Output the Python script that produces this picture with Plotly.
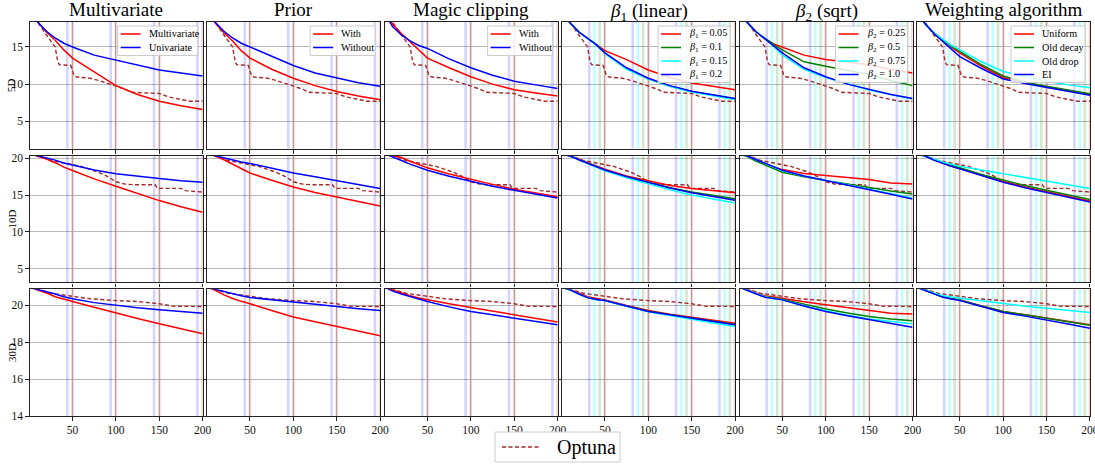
import plotly.graph_objects as go
from plotly.subplots import make_subplots

# ---------------- data ----------------
X = [1, 10, 20, 30, 40, 50, 75, 100, 125, 150, 175, 200]

COL_TITLES = ["Multivariate", "Prior", "Magic clipping",
              "<i>β</i><sub>1</sub> (linear)", "<i>β</i><sub>2</sub> (sqrt)", "Weighting algorithm"]
ROW_LABELS = ["5D", "10D", "30D"]

# Optuna baseline (same in each row)
optuna5_x = [1, 10, 20, 30, 33, 35, 48, 52, 55, 70, 80, 95, 100, 110, 118, 150, 160, 175, 185, 200]
optuna5_y = [19.6, 18.3, 16.6, 15.0, 13.0, 12.6, 12.5, 11.1, 10.95, 10.8, 10.5, 9.9, 9.7, 9.35, 8.9, 8.75, 8.3, 8.0, 7.7, 7.7]
optuna10_x = [1, 10, 25, 40, 50, 60, 70, 80, 90, 95, 100, 110, 120, 145, 148, 175, 180, 200]
optuna10_y = [20.6, 20.4, 19.7, 19.4, 19.15, 18.9, 18.5, 18.1, 17.55, 17.2, 16.8, 16.5, 16.4, 16.4, 15.9, 15.9, 15.6, 15.4]
optuna30_x = [1, 10, 25, 40, 50, 70, 100, 125, 150, 160, 165, 200]
optuna30_y = [20.95, 20.85, 20.64, 20.55, 20.46, 20.34, 20.24, 20.19, 20.07, 20.0, 19.94, 19.92]

# 5D
d5_multi = [19.6, 18.3, 17.0, 15.9, 14.6, 13.5, 11.7, 9.8, 8.6, 7.7, 7.1, 6.6]
d5_uni = [19.6, 18.3, 17.1, 16.2, 15.5, 15.0, 13.9, 13.2, 12.5, 11.9, 11.5, 11.1]
d5_prior_with = [19.6, 18.2, 16.9, 15.8, 14.5, 13.5, 12.0, 10.8, 9.8, 9.0, 8.4, 7.9]
d5_prior_without = [19.6, 18.3, 17.1, 16.2, 15.5, 15.0, 13.7, 12.5, 11.5, 10.8, 10.2, 9.7]
d5_clip_with = [19.8, 18.0, 16.8, 15.7, 14.5, 13.5, 12.2, 11.0, 10.0, 9.25, 8.8, 8.4]
d5_clip_without = [19.4, 17.7, 16.6, 15.8, 15.2, 14.8, 13.4, 12.2, 11.2, 10.4, 9.9, 9.4]
d5_b1_005 = [19.6, 18.2, 17.0, 16.1, 15.3, 14.5, 13.3, 11.9, 10.9, 10.15, 9.7, 9.26]
d5_b1_010 = [19.6, 18.2, 17.0, 16.1, 15.3, 14.2, 12.1, 10.7, 9.7, 9.0, 8.5, 8.0]
d5_b1_015 = [19.6, 18.2, 17.0, 16.1, 15.3, 14.1, 12.0, 10.7, 9.7, 8.95, 8.45, 7.95]
d5_b1_020 = [19.6, 18.2, 17.0, 16.1, 15.3, 14.2, 12.2, 10.8, 9.8, 9.03, 8.5, 8.06]
d5_b2_025 = [19.6, 18.2, 17.0, 16.1, 15.4, 15.0, 13.9, 13.3, 12.9, 12.6, 12.0, 11.5]
d5_b2_050 = [19.6, 18.2, 17.0, 16.1, 15.3, 14.6, 13.0, 12.4, 11.8, 11.3, 10.5, 9.8]
d5_b2_075 = [19.6, 18.2, 17.0, 16.0, 15.1, 13.9, 12.0, 10.9, 10.0, 9.2, 8.6, 8.0]
d5_b2_100 = [19.6, 18.2, 17.0, 16.1, 15.2, 14.2, 12.2, 11.0, 10.0, 9.25, 8.6, 8.06]
d5_w_uniform = [19.6, 18.1, 16.9, 15.9, 15.0, 14.2, 12.4, 10.9, 10.2, 9.6, 9.1, 8.6]
d5_w_decay = [19.6, 18.1, 16.9, 16.0, 15.1, 14.4, 12.6, 11.1, 10.3, 9.7, 9.2, 8.7]
d5_w_drop = [19.6, 18.1, 16.9, 16.0, 15.2, 14.6, 13.0, 11.7, 11.0, 10.4, 9.9, 9.5]
d5_w_ei = [19.6, 18.1, 16.8, 15.8, 14.8, 13.7, 12.1, 10.7, 10.1, 9.6, 9.0, 8.5]

# 10D
d10_multi = [20.6, 20.3, 19.9, 19.4, 18.8, 18.33, 17.2, 16.2, 15.2, 14.24, 13.4, 12.65]
d10_uni = [20.6, 20.35, 20.1, 19.75, 19.35, 19.05, 18.4, 17.9, 17.55, 17.24, 16.95, 16.74]
d10_prior_with = [20.6, 20.3, 19.8, 19.2, 18.6, 18.0, 17.0, 16.1, 15.35, 14.7, 14.1, 13.5]
d10_prior_without = [20.6, 20.35, 20.1, 19.75, 19.5, 19.3, 18.6, 18.0, 17.5, 17.0, 16.45, 15.9]
d10_clip_with = [20.6, 20.4, 20.1, 19.6, 19.1, 18.7, 17.85, 17.1, 16.45, 15.8, 15.25, 14.75]
d10_clip_without = [20.6, 20.2, 19.7, 19.2, 18.75, 18.37, 17.55, 16.87, 16.2, 15.64, 15.1, 14.6]
d10_b1_005 = [20.6, 20.3, 19.9, 19.4, 18.9, 18.5, 17.6, 16.9, 16.3, 15.9, 15.6, 15.3]
d10_b1_010 = [20.6, 20.3, 19.8, 19.3, 18.8, 18.4, 17.5, 16.7, 16.0, 15.4, 14.9, 14.5]
d10_b1_015 = [20.6, 20.3, 19.8, 19.3, 18.75, 18.3, 17.35, 16.5, 15.7, 15.0, 14.4, 13.9]
d10_b1_020 = [20.6, 20.3, 19.8, 19.3, 18.8, 18.4, 17.5, 16.7, 15.95, 15.3, 14.8, 14.3]
d10_b2_025 = [20.6, 20.3, 19.8, 19.3, 18.8, 18.46, 17.92, 17.65, 17.4, 17.1, 16.65, 16.5]
d10_b2_050 = [20.6, 20.2, 19.6, 19.1, 18.5, 18.1, 17.47, 17.0, 16.5, 15.97, 15.55, 15.15]
d10_b2_075 = [20.6, 20.3, 19.8, 19.3, 18.8, 18.3, 17.6, 17.0, 16.35, 15.75, 15.2, 14.6]
d10_b2_100 = [20.6, 20.3, 19.8, 19.3, 18.8, 18.37, 17.6, 17.0, 16.35, 15.74, 15.1, 14.47]
d10_w_uniform = [20.6, 20.3, 19.8, 19.35, 18.95, 18.62, 17.7, 16.85, 16.1, 15.5, 14.85, 14.2]
d10_w_decay = [20.6, 20.3, 19.8, 19.4, 19.0, 18.7, 17.8, 17.0, 16.3, 15.64, 15.0, 14.38]
d10_w_drop = [20.6, 20.3, 19.9, 19.5, 19.2, 18.9, 18.4, 17.92, 17.4, 16.87, 16.4, 15.9]
d10_w_ei = [20.6, 20.3, 19.75, 19.3, 18.9, 18.56, 17.6, 16.74, 16.0, 15.37, 14.7, 14.06]

# 30D
d30_multi = [20.95, 20.82, 20.65, 20.45, 20.3, 20.19, 19.88, 19.56, 19.27, 18.99, 18.72, 18.45]
d30_uni = [20.95, 20.85, 20.73, 20.6, 20.45, 20.34, 20.13, 19.97, 19.85, 19.74, 19.64, 19.56]
d30_prior_with = [20.95, 20.8, 20.55, 20.35, 20.2, 20.07, 19.7, 19.35, 19.1, 18.84, 18.6, 18.34]
d30_prior_without = [20.95, 20.85, 20.7, 20.6, 20.5, 20.41, 20.28, 20.16, 20.04, 19.92, 19.8, 19.7]
d30_clip_with = [20.95, 20.8, 20.65, 20.5, 20.38, 20.28, 20.07, 19.87, 19.67, 19.47, 19.27, 19.08]
d30_clip_without = [20.95, 20.75, 20.6, 20.45, 20.3, 20.19, 19.9, 19.65, 19.47, 19.29, 19.11, 18.93]
d30_b1_005 = [20.95, 20.82, 20.65, 20.45, 20.35, 20.28, 19.97, 19.7, 19.5, 19.33, 19.17, 19.02]
d30_b1_010 = [20.95, 20.82, 20.6, 20.4, 20.3, 20.25, 19.95, 19.66, 19.47, 19.29, 19.1, 18.95]
d30_b1_015 = [20.95, 20.82, 20.6, 20.4, 20.3, 20.23, 19.93, 19.63, 19.43, 19.25, 19.03, 18.84]
d30_b1_020 = [20.95, 20.82, 20.6, 20.4, 20.3, 20.25, 19.95, 19.65, 19.47, 19.29, 19.1, 18.93]
d30_b2_025 = [20.95, 20.82, 20.65, 20.5, 20.43, 20.37, 20.18, 20.01, 19.85, 19.7, 19.55, 19.51]
d30_b2_050 = [20.95, 20.8, 20.6, 20.45, 20.38, 20.32, 20.05, 19.78, 19.57, 19.38, 19.25, 19.15]
d30_b2_075 = [20.95, 20.8, 20.6, 20.45, 20.35, 20.28, 19.95, 19.68, 19.45, 19.25, 19.1, 18.99]
d30_b2_100 = [20.95, 20.8, 20.6, 20.42, 20.33, 20.28, 19.95, 19.65, 19.42, 19.2, 19.0, 18.8]
d30_w_uniform = [20.95, 20.8, 20.6, 20.45, 20.35, 20.28, 19.95, 19.65, 19.47, 19.29, 19.1, 18.93]
d30_w_decay = [20.95, 20.8, 20.6, 20.45, 20.35, 20.28, 19.95, 19.65, 19.47, 19.29, 19.1, 18.9]
d30_w_drop = [20.95, 20.8, 20.65, 20.5, 20.43, 20.37, 20.2, 20.05, 19.94, 19.83, 19.71, 19.6]
d30_w_ei = [20.95, 20.8, 20.6, 20.43, 20.33, 20.25, 19.92, 19.6, 19.4, 19.2, 18.98, 18.75]

# violin positions (checkpoints) and per-series offsets
VIOLIN_POS = [50, 100, 150, 200]
OFFSETS_2 = [0, -6]             # red, blue
OFFSETS_4 = [0, -6, -12, -18]   # red, green, cyan, blue

Y_RANGES = [[1.3, 18.35], [3.1, 20.37], [14, 20.86]]
Y_TICKS = [[5, 10, 15], [5, 10, 15, 20], [14, 16, 18, 20]]
X_TICKS = [50, 100, 150, 200]

# ---------------- styles ----------------
RED, BLUE, GREEN, CYAN, OPT = "#ff0000", "#0000ff", "#008000", "#00ffff", "#a52a2a"
VCOL = {RED: "rgba(205,95,95,0.28)", BLUE: "rgba(0,0,255,0.17)",
        GREEN: "rgba(0,128,0,0.18)", CYAN: "rgba(0,255,255,0.25)"}
FONT = "Liberation Serif"

NAMES = [
    ["Multivariate", "Univariate"],
    ["With", "Without"],
    ["With", "Without"],
    ["<i>β</i><sub>1</sub> = 0.05", "<i>β</i><sub>1</sub> = 0.1", "<i>β</i><sub>1</sub> = 0.15", "<i>β</i><sub>1</sub> = 0.2"],
    ["<i>β</i><sub>2</sub> = 0.25", "<i>β</i><sub>2</sub> = 0.5", "<i>β</i><sub>2</sub> = 0.75", "<i>β</i><sub>2</sub> = 1.0"],
    ["Uniform", "Old decay", "Old drop", "EI"],
]
LEGEND_W = [80, 65, 65, 72, 72, 74]   # legend box widths in px
COLORS2 = [RED, BLUE]
COLORS4 = [RED, GREEN, CYAN, BLUE]

ROW_DATA = [
    [[d5_multi, d5_uni], [d5_prior_with, d5_prior_without], [d5_clip_with, d5_clip_without],
     [d5_b1_005, d5_b1_010, d5_b1_015, d5_b1_020], [d5_b2_025, d5_b2_050, d5_b2_075, d5_b2_100],
     [d5_w_uniform, d5_w_decay, d5_w_drop, d5_w_ei]],
    [[d10_multi, d10_uni], [d10_prior_with, d10_prior_without], [d10_clip_with, d10_clip_without],
     [d10_b1_005, d10_b1_010, d10_b1_015, d10_b1_020], [d10_b2_025, d10_b2_050, d10_b2_075, d10_b2_100],
     [d10_w_uniform, d10_w_decay, d10_w_drop, d10_w_ei]],
    [[d30_multi, d30_uni], [d30_prior_with, d30_prior_without], [d30_clip_with, d30_clip_without],
     [d30_b1_005, d30_b1_010, d30_b1_015, d30_b1_020], [d30_b2_025, d30_b2_050, d30_b2_075, d30_b2_100],
     [d30_w_uniform, d30_w_decay, d30_w_drop, d30_w_ei]],
]
OPTUNA = [(optuna5_x, optuna5_y), (optuna10_x, optuna10_y), (optuna30_x, optuna30_y)]

W, H = 1095, 466
ML, MR, MT, MB = 30, 5, 22, 50
PW, PH = W - ML - MR, H - MT - MB


def px2x(px):
    return (px - ML) / PW


def py2y(py):
    return 1 - (py - MT) / PH


fig = make_subplots(rows=3, cols=6, horizontal_spacing=0.0045, vertical_spacing=0.017,
                    subplot_titles=COL_TITLES)

for r in range(3):
    lo, hi = Y_RANGES[r]
    for c in range(6):
        series = ROW_DATA[r][c]
        n = len(series)
        colors = COLORS2 if n == 2 else COLORS4
        offs = OFFSETS_2 if n == 2 else OFFSETS_4
        # violin-like faint vertical bands
        for k in range(n - 1, -1, -1):
            vx, vy = [], []
            for p in VIOLIN_POS:
                vx += [p + offs[k], p + offs[k], None]
                vy += [lo, hi, None]
            fig.add_trace(go.Scatter(x=vx, y=vy, mode="lines", hoverinfo="skip", showlegend=False,
                                     line=dict(color=VCOL[colors[k]], width=2.6)), row=r + 1, col=c + 1)
        # optuna baseline
        ox, oy = OPTUNA[r]
        fig.add_trace(go.Scatter(x=ox, y=oy, mode="lines", name="Optuna", showlegend=False,
                                 line=dict(color=OPT, width=1.4, dash="4px,2.5px")),
                      row=r + 1, col=c + 1)
        for k in range(n):
            fig.add_trace(go.Scatter(x=X, y=series[k], mode="lines", name=NAMES[c][k], showlegend=False,
                                     line=dict(color=colors[k], width=1.5)),
                          row=r + 1, col=c + 1)

# axes
for r in range(3):
    for c in range(6):
        common = dict(showgrid=True, gridcolor="#b8b8b8", gridwidth=1,
                      showline=True, linecolor="#222222", linewidth=1.3, mirror=True,
                      ticks="outside", ticklen=3.5, tickcolor="#222222", zeroline=False,
                      tickfont=dict(family=FONT, size=11.5, color="#111"))
        fig.update_xaxes(range=[1, 200], tickvals=X_TICKS, showticklabels=(r == 2),
                         ticklabeloverflow="allow", row=r + 1, col=c + 1, **common)
        fig.update_yaxes(range=Y_RANGES[r], tickvals=Y_TICKS[r], showticklabels=(c == 0),
                         row=r + 1, col=c + 1, **common)

for i, a in enumerate(fig.layout.annotations):
    a.font = dict(family=FONT, size=19, color="#000")
    a.yshift = -4.5 if "<sub>" in a.text else 0

# row labels
for r in range(3):
    yd = fig.layout[f"yaxis{r*6+1 if r else ''}"].domain
    fig.add_annotation(text=ROW_LABELS[r], xref="paper", yref="paper", x=px2x(11.5), y=(yd[0] + yd[1]) / 2,
                       textangle=-90, showarrow=False, font=dict(family=FONT, size=11, color="#000"),
                       xanchor="center", yanchor="middle")

# per-panel legends (top row), drawn as box + line samples + text
shapes = []
for c in range(6):
    xd = fig.layout[f"xaxis{c+1 if c else ''}"].domain
    n = len(NAMES[c])
    colors = COLORS2 if n == 2 else COLORS4
    right = ML + xd[1] * PW - 5
    left = right - LEGEND_W[c]
    top = 26
    bottom = top + 16 + 13.5 * (n - 1)
    shapes.append(dict(type="rect", xref="paper", yref="paper", x0=px2x(left), x1=px2x(right),
                       y0=py2y(bottom), y1=py2y(top), fillcolor="rgba(255,255,255,0.85)",
                       line=dict(color="#cccccc", width=1), layer="above"))
    for k in range(n):
        yc = top + 8 + 13.5 * k
        shapes.append(dict(type="line", xref="paper", yref="paper", x0=px2x(left + 3), x1=px2x(left + 23),
                           y0=py2y(yc), y1=py2y(yc), line=dict(color=colors[k], width=1.5), layer="above"))
        fig.add_annotation(text=NAMES[c][k], xref="paper", yref="paper", x=px2x(left + 29), y=py2y(yc),
                           xanchor="left", yanchor="middle", showarrow=False,
                           font=dict(family=FONT, size=10.2, color="#000"))

# bottom legend for Optuna
shapes.append(dict(type="rect", xref="paper", yref="paper", x0=px2x(495), x1=px2x(620),
                   y0=py2y(462), y1=py2y(432), fillcolor="white",
                   line=dict(color="#cccccc", width=1), layer="above"))
shapes.append(dict(type="line", xref="paper", yref="paper", x0=px2x(502), x1=px2x(540),
                   y0=py2y(447), y1=py2y(447), line=dict(color=OPT, width=1.4, dash="4px,2.5px"),
                   layer="above"))
fig.add_annotation(text="Optuna", xref="paper", yref="paper", x=px2x(555), y=py2y(447),
                   xanchor="left", yanchor="middle", showarrow=False,
                   font=dict(family=FONT, size=20, color="#000"))

fig.update_layout(width=W, height=H, margin=dict(l=ML, r=MR, t=MT, b=MB, autoexpand=False),
                  font=dict(family=FONT, color="#000"), showlegend=False, shapes=shapes,
                  plot_bgcolor="white", paper_bgcolor="white")

fig.write_html("out.html", config={"displayModeBar": False},
               post_script="document.body.style.margin='0';document.body.style.overflow='hidden';")
